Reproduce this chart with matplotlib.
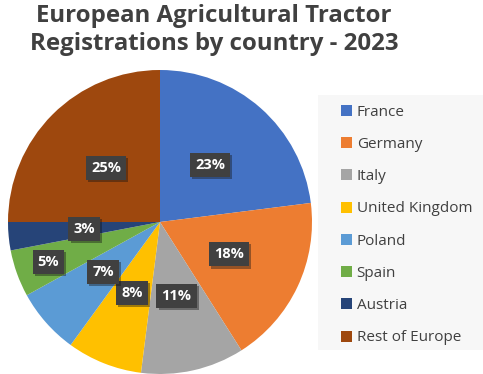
import matplotlib
matplotlib.use("Agg")
import matplotlib.pyplot as plt
import matplotlib.patheffects as pe
import numpy as np

countries = ["France", "Germany", "Italy", "United Kingdom", "Poland",
             "Spain", "Austria", "Rest of Europe"]
shares = [23, 18, 11, 8, 7, 5, 3, 25]
colors = ["#4472C4", "#ED7D31", "#A5A5A5", "#FFC000", "#5B9BD5",
          "#70AD47", "#264478", "#9E480E"]
# label radius (fraction of pie radius); Spain's label sits further out
label_r = [0.5, 0.5, 0.5, 0.5, 0.5, 0.78, 0.5, 0.5]
title = "European Agricultural Tractor\nRegistrations by country - 2023"

plt.rcParams['font.family'] = ['Open Sans', 'DejaVu Sans']

W, H = 483, 374
fig = plt.figure(figsize=(W / 100, H / 100), dpi=100)

# pie centre ~ (160, 222) px, radius ~152 px
cx, cy, r = 160, 222, 152
ax = fig.add_axes([(cx - r) / W, (H - cy - r) / H, 2 * r / W, 2 * r / H])
wedges, texts, autotexts = ax.pie(
    shares, colors=colors, startangle=90, counterclock=False,
    autopct=lambda p: f"{p:.0f}%", pctdistance=0.5,
    wedgeprops=dict(linewidth=0),
    textprops=dict(color="white", fontweight="bold", fontsize=10.5))
for w, t, lr in zip(wedges, autotexts, label_r):
    ang = np.deg2rad((w.theta1 + w.theta2) / 2)
    t.set_position((lr * np.cos(ang), lr * np.sin(ang)))
    t.set_bbox(dict(boxstyle="square,pad=0.35", fc="#404040", ec="none"))
    t.get_bbox_patch().set_path_effects(
        [pe.SimplePatchShadow(offset=(1.5, -1.5), alpha=0.4), pe.Normal()])
ax.set_xlim(-1, 1)
ax.set_ylim(-1, 1)
ax.set_aspect("equal")

fig.text(214 / W, 1 - 30 / H, title, ha="center", va="center",
         fontsize=17.3, fontweight="bold", color="#404040", linespacing=1.2)

# legend panel
panel = plt.Rectangle((318 / W, 1 - 350 / H), (W - 318) / W, 255 / H,
                      transform=fig.transFigure, fc="#F7F7F7", ec="none",
                      zorder=0)
fig.patches.append(panel)

leg = fig.legend(wedges, countries, loc="upper left",
                 bbox_to_anchor=(333 / W, 1 - 97 / H), frameon=False,
                 fontsize=11, handlelength=0.75, handleheight=0.75,
                 handletextpad=0.3, labelspacing=1.13, borderpad=0)
for t in leg.get_texts():
    t.set_color("#404040")

fig.savefig("out.png", dpi=100)
